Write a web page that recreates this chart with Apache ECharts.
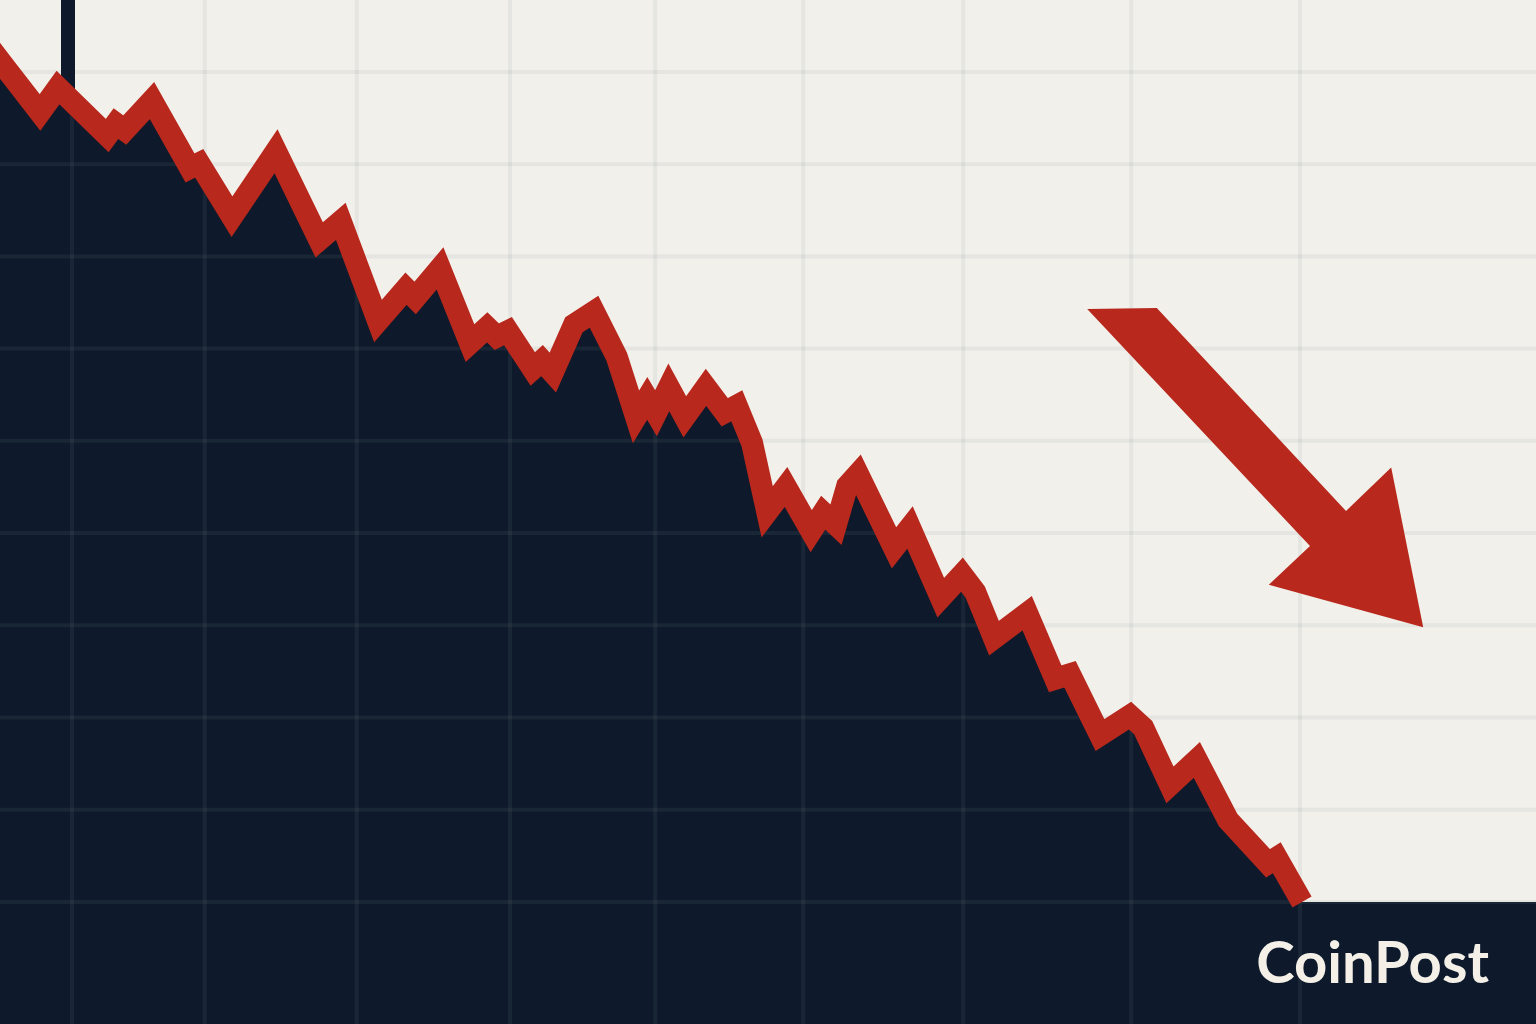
<!DOCTYPE html>
<html><head><meta charset="utf-8">
<script src="https://cdn.jsdelivr.net/npm/echarts@6/dist/echarts.min.js"></script>
<style>html,body{margin:0;padding:0;background:#f2f0eb;overflow:hidden}#c{width:1536px;height:1024px}</style>
</head><body><div id="c"></div>
<script>
// ---- data (x = trading day, y = price index) ----
const days = [-3, 0, 5, 7.25, 13.4, 14.5, 15.6, 19, 23.75, 24.9, 29, 34.5, 39.9, 42.6, 47.25, 50.75, 51.9, 55,
  58.75, 60.9, 62.1, 63.5, 66.6, 67.75, 69.1, 71.75, 74.25, 77.1, 79.5, 80.9, 82, 83.6, 85.6, 88.25,
  90.6, 92.1, 94, 95.9, 98.25, 101.4, 102.9, 104.5, 105.9, 107.25, 111.75, 113.75, 117.6, 120.25,
  121.9, 124.25, 128.4, 131.9, 133.75, 137.5, 141.25, 142.9, 146.25, 149.6, 153.5, 158.5, 159.6, 162.75];
const prices = [104.6, 101.2, 95.6, 98.3, 93.1, 94.4, 93.7, 96.9, 89.6, 90.1, 84.3, 91.4, 81.8, 83.8, 73.0, 76.5, 75.5, 78.7,
  70.6, 72.3, 71.3, 71.9, 67.8, 68.7, 67.4, 72.6, 74.0, 69.1, 62.6, 64.6, 63.0, 65.8, 62.6, 65.8,
  63.1, 63.8, 59.8, 52.3, 55.0, 50.2, 52.2, 50.9, 55.1, 56.4, 48.4, 50.6, 43.0, 45.5,
  43.6, 38.6, 41.3, 34.2, 34.7, 28.1, 30.2, 28.9, 22.7, 25.4, 18.9, 14.2, 14.8, 10.0];
const floorDays = [162.75, 192];
const floorPrices = [10, 10];
const vGridDays = [9, 25.6, 44.6, 63.75, 81.9, 100.4, 120.4, 141.4, 162.5];
const hGridPrices = [10, 20, 30, 40, 50, 60, 70, 80, 90, 100];
const wickDays = [8.5];
const wickHigh = [110];
const wickLow = [96];
const arrowDays = [135.9, 144.6, 168.25, 173.9, 177.9, 158.6, 163.75];
const arrowPrices = [74.3, 74.4, 52.4, 57.1, 39.8, 44.4, 48.6];
const brand = 'CoinPost';

const dayMin = 0, dayMax = 192, priceMin = -3.23, priceMax = 107.8;
const cream = '#f2f0eb', navy = '#0e1a2b', red = '#b8281c';
const gridColor = 'rgba(124,146,140,0.105)';

const lineData = days.map((d, i) => [d, prices[i]]);
const areaData = lineData.concat(floorDays.slice(1).map((d, i) => [d, floorPrices[i + 1]]));

const chart = echarts.init(document.getElementById('c'), null, { renderer: 'canvas' });
chart.setOption({
  backgroundColor: cream,
  animation: false,
  grid: { left: 0, right: 0, top: 0, bottom: 0 },
  xAxis: { type: 'value', min: dayMin, max: dayMax, show: false },
  yAxis: { type: 'value', min: priceMin, max: priceMax, show: false },
  title: {
    text: brand, right: 47, top: 935, padding: 0,
    textStyle: { fontFamily: 'Lato', fontWeight: 700, fontSize: 58, color: '#f4f0e8' }
  },
  series: [
    {
      type: 'line', z: 1, data: areaData, symbol: 'none', silent: true, clip: true,
      lineStyle: { width: 0 },
      areaStyle: { color: navy, opacity: 1, origin: 'start' }
    },
    {
      type: 'custom', z: 2, silent: true,
      data: vGridDays.map(d => [d, 0]),
      renderItem: (p, api) => {
        const a = api.coord([api.value(0), priceMin]);
        const b = api.coord([api.value(0), priceMax]);
        return { type: 'line', shape: { x1: a[0], y1: a[1], x2: b[0], y2: b[1] }, style: { stroke: gridColor, lineWidth: 4 } };
      }
    },
    {
      type: 'custom', z: 2, silent: true,
      data: hGridPrices.map(v => [0, v]),
      renderItem: (p, api) => {
        const a = api.coord([dayMin, api.value(1)]);
        const b = api.coord([dayMax, api.value(1)]);
        return { type: 'line', shape: { x1: a[0], y1: a[1], x2: b[0], y2: b[1] }, style: { stroke: gridColor, lineWidth: 4 } };
      }
    },
    {
      type: 'custom', z: 3, silent: true,
      data: wickDays.map((d, i) => [d, wickHigh[i], wickLow[i]]),
      encode: { x: 0, y: [1, 2] },
      renderItem: (p, api) => {
        const t = api.coord([api.value(0), api.value(1)]);
        const b = api.coord([api.value(0), api.value(2)]);
        return { type: 'rect', shape: { x: t[0] - 7, y: t[1], width: 14, height: b[1] - t[1] }, style: { fill: navy } };
      }
    },
    {
      type: 'line', z: 4, data: lineData, symbol: 'none', silent: true, clip: true,
      lineStyle: { width: 22, color: red, join: 'miter', miterLimit: 8, cap: 'butt' }
    },
    {
      type: 'custom', z: 5, silent: true,
      data: [[arrowDays[0], arrowPrices[0]]],
      renderItem: (p, api) => {
        const pts = arrowDays.map((d, i) => api.coord([d, arrowPrices[i]]));
        return { type: 'polygon', shape: { points: pts }, style: { fill: red } };
      }
    }
  ]
});
</script></body></html>
